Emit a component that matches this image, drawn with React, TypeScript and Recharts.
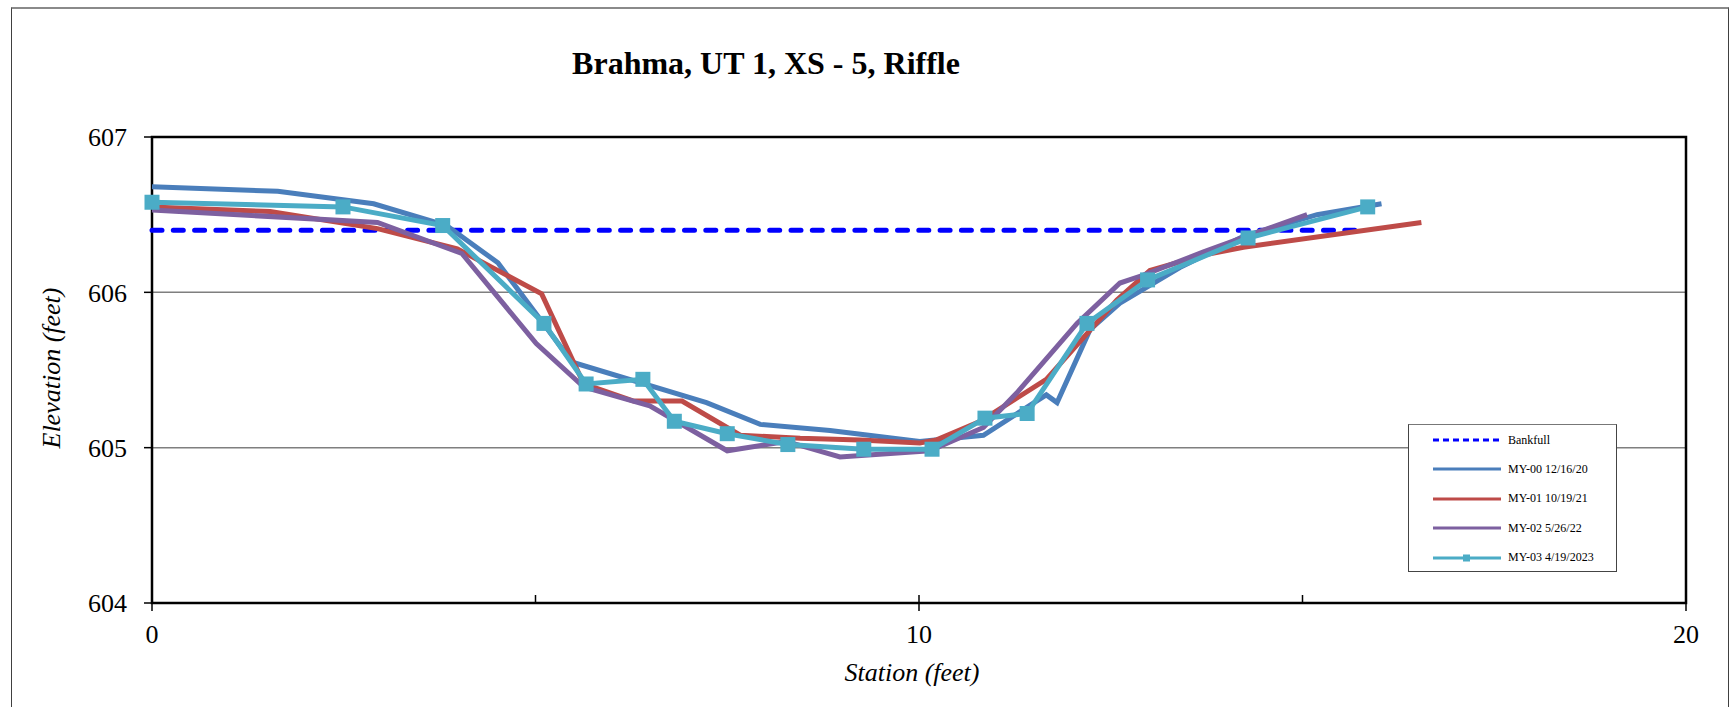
import React from 'react';
import { LineChart, Line, XAxis, YAxis, CartesianGrid, ReferenceArea } from 'recharts';

// values (station in feet, elevation in feet)
const bankfullStation = [0, 15.75];
const bankfullElev = [606.4, 606.4];

const my00Station = [0, 1.64, 2.89, 3.84, 4.51, 5.48, 7.23, 7.93, 8.84, 10.01, 10.84, 11.66, 11.8, 12.23, 12.62, 13.4, 14.23, 15.19, 16.03];
const my00Elev = [606.68, 606.65, 606.57, 606.43, 606.19, 605.55, 605.29, 605.15, 605.11, 605.04, 605.08, 605.34, 605.29, 605.76, 605.93, 606.16, 606.36, 606.5, 606.57];

const my01Station = [0, 1.54, 2.94, 3.98, 5.08, 5.63, 6.28, 6.91, 7.67, 8.45, 9.23, 10.01, 10.23, 10.8, 11.66, 12.58, 13.01, 13.71, 14.23, 16.55];
const my01Elev = [606.55, 606.52, 606.41, 606.28, 605.99, 605.41, 605.3, 605.3, 605.08, 605.06, 605.05, 605.03, 605.05, 605.17, 605.44, 605.95, 606.14, 606.24, 606.29, 606.45];

const my02Station = [0, 2.94, 4.04, 5.01, 5.63, 6.49, 7.5, 8.27, 8.97, 10.14, 10.84, 11.27, 12.06, 12.62, 12.92, 13.71, 14.32, 15.06];
const my02Elev = [606.53, 606.45, 606.25, 605.67, 605.39, 605.27, 604.98, 605.04, 604.94, 604.98, 605.13, 605.35, 605.8, 606.06, 606.11, 606.26, 606.37, 606.5];

const my03Station = [0, 2.49, 3.79, 5.11, 5.66, 6.4, 6.81, 7.5, 8.29, 9.28, 10.17, 10.86, 11.41, 12.19, 12.98, 14.29, 15.85];
const my03Elev = [606.58, 606.55, 606.43, 605.8, 605.41, 605.44, 605.17, 605.09, 605.02, 604.99, 604.99, 605.19, 605.22, 605.8, 606.08, 606.35, 606.55];

const xTicks = [0, 5, 10, 15, 20];
const yTicks = [604, 605, 606, 607];

const toPoints = (st: number[], el: number[]) => st.map((x, i) => ({ x, y: el[i] }));

const series = [
    { name: 'Bankfull', data: toPoints(bankfullStation, bankfullElev), color: '#0000FF', width: 5, dash: '10 11.3' },
    { name: 'MY-00 12/16/20', data: toPoints(my00Station, my00Elev), color: '#4A7EBB', width: 5 },
    { name: 'MY-01 10/19/21', data: toPoints(my01Station, my01Elev), color: '#BE4B48', width: 5 },
    { name: 'MY-02 5/26/22', data: toPoints(my02Station, my02Elev), color: '#7D60A0', width: 5 },
    { name: 'MY-03 4/19/2023', data: toPoints(my03Station, my03Elev), color: '#4BACC6', width: 5, marker: true },
];

const FONT = "'Liberation Serif', 'Times New Roman', serif";

// x ticks: majors cross the axis and get a label, minors only poke inside
const XTick = (props: any) => {
    const { x, y, payload } = props;
    const major = payload.value % 10 === 0;
    return (
        <g>
            <line x1={x} x2={x} y1={y - 8} y2={major ? y + 8 : y} stroke="#000" strokeWidth={1.5} />
            {major && (
                <text x={x} y={y + 40} textAnchor="middle" fontFamily={FONT} fontSize={26} fill="#000">
                    {payload.value}
                </text>
            )}
        </g>
    );
};

const SquareDot = (props: any) => {
    const { cx, cy, index } = props;
    return <rect key={index} x={cx - 7.5} y={cy - 7.5} width={15} height={15} fill="#4BACC6" />;
};

const LegendBox = () => (
    <div style={{ position: 'absolute', left: 1408, top: 424, width: 207, height: 146, border: '1px solid #444', borderTopColor: '#777', background: '#fff', fontFamily: FONT }}>
        {series.map((s, i) => (
            <div key={s.name} style={{ position: 'absolute', left: 0, top: 15 + i * 29.4 - 8, height: 16, display: 'flex', alignItems: 'center' }}>
                <svg width={92} height={16} style={{ display: 'block' }}>
                    <line x1={24} x2={92} y1={8} y2={8} stroke={s.color} strokeWidth={3} strokeDasharray={s.dash ? '6 4' : undefined} />
                    {s.marker && <rect x={54} y={4.5} width={7} height={7} fill={s.color} />}
                </svg>
                <span style={{ marginLeft: 7, fontSize: 12, color: '#000', whiteSpace: 'nowrap' }}>{s.name}</span>
            </div>
        ))}
    </div>
);

export default function App() {
    return (
        <div style={{ position: 'absolute', left: 0, top: 0, width: 1730, height: 707, background: '#fff', overflow: 'hidden' }}>
            <div style={{ position: 'absolute', left: 11, top: 7, width: 1716, height: 720, borderTop: '2px solid #8a8a8a', borderLeft: '1px solid #404040', borderRight: '1px solid #404040' }} />

            <div style={{ position: 'absolute', left: 466, top: 47, width: 600, textAlign: 'center', fontFamily: FONT, fontWeight: 'bold', fontSize: 32, lineHeight: '32px', color: '#000' }}>
                Brahma, UT 1, XS - 5, Riffle
            </div>

            <div style={{ position: 'absolute', left: 0, top: 0 }}>
                <LineChart width={1730} height={707} margin={{ top: 137, right: 44, bottom: 44, left: 92 }}>
                    <CartesianGrid horizontal vertical={false} stroke="#7f7f7f" strokeWidth={1.5} />
                    <XAxis
                        type="number"
                        dataKey="x"
                        domain={[0, 20]}
                        ticks={xTicks}
                        tick={<XTick />}
                        tickSize={0}
                        tickMargin={0}
                        axisLine={false}
                        tickLine={false}
                        height={60}
                        interval={0}
                    />
                    <YAxis
                        type="number"
                        domain={[604, 607]}
                        ticks={yTicks}
                        width={60}
                        axisLine={false}
                        tickLine={{ stroke: '#000', strokeWidth: 1.5 }}
                        tickSize={8}
                        tickMargin={17}
                        tick={{ fontFamily: FONT, fontSize: 26, fill: '#000' }}
                        interval={0}
                    />
                    <ReferenceArea x1={0} x2={20} y1={604} y2={607} fill="none" fillOpacity={0} stroke="#000" strokeWidth={2.5} />
                    {series.map((s) => (
                        <Line
                            key={s.name}
                            name={s.name}
                            data={s.data}
                            dataKey="y"
                            type="linear"
                            stroke={s.color}
                            strokeWidth={s.width}
                            strokeDasharray={s.dash}
                            strokeLinecap={s.dash ? 'round' : 'butt'}
                            dot={s.marker ? <SquareDot /> : false}
                            activeDot={false}
                            isAnimationActive={false}
                        />
                    ))}
                </LineChart>
            </div>

            <LegendBox />

            <div style={{ position: 'absolute', left: 762, top: 660, width: 300, textAlign: 'center', fontFamily: FONT, fontStyle: 'italic', fontSize: 26, lineHeight: '26px', color: '#000' }}>
                Station (feet)
            </div>
            <div style={{ position: 'absolute', left: -98, top: 355, width: 300, height: 26, textAlign: 'center', fontFamily: FONT, fontStyle: 'italic', fontSize: 26, lineHeight: '26px', color: '#000', transform: 'rotate(-90deg)' }}>
                Elevation (feet)
            </div>
        </div>
    );
}
